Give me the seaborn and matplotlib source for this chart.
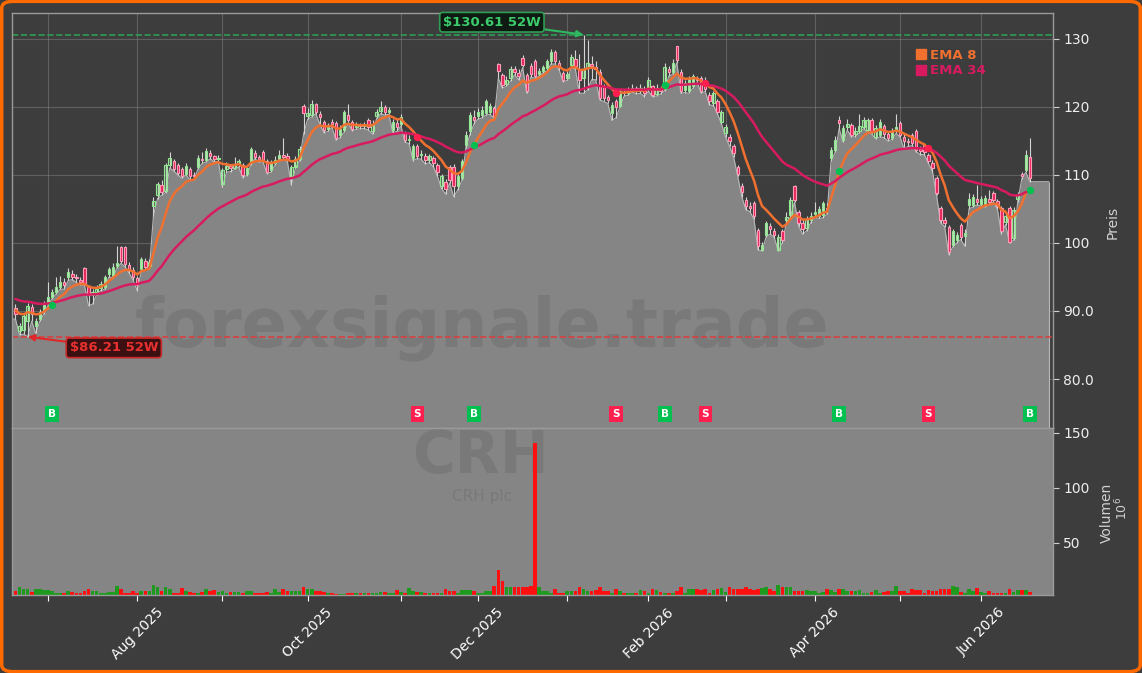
import matplotlib
matplotlib.use("Agg")
import matplotlib.pyplot as plt
import matplotlib.transforms as mtransforms
from matplotlib.lines import Line2D
from matplotlib.patches import FancyBboxPatch
from matplotlib.ticker import FuncFormatter
import numpy as np
import pandas as pd
import seaborn as sns

ticker = "CRH"
company = "CRH plc"
start_date = "2025-06-18"
end_date = "2026-06-17"
holidays = ["2025-06-19", "2025-07-04", "2025-09-01", "2025-11-27", "2025-12-25",
            "2026-01-01", "2026-01-19", "2026-02-16", "2026-04-03", "2026-05-25"]

opens = [90.5, 87.0, 87.2, 88.5, 90.6, 87.8, 88.8, 90.0, 91.0, 92.0,
         92.8, 93.5, 94.2, 95.0, 95.5, 95.0, 94.6, 96.3, 93.5, 92.4,
         92.8, 93.4, 93.5, 95.4, 95.2, 96.6, 99.4, 99.4, 96.8, 96.0,
         94.9, 96.2, 97.4, 96.6, 105.5, 107.0, 108.5, 107.7, 111.4, 112.0,
         111.5, 110.9, 110.2, 110.9, 110.0, 111.2, 112.4, 112.2, 113.2, 112.8,
         112.4, 108.6, 110.8, 111.3, 111.0, 111.6, 111.5, 110.2, 111.7, 113.2,
         112.6, 113.4, 112.0, 110.7, 111.8, 112.2, 112.9, 112.8, 109.8, 111.2,
         112.4, 120.1, 118.6, 118.8, 120.4, 119.0, 117.8, 116.8, 117.8, 117.6,
         115.8, 116.6, 118.8, 117.8, 117.0, 117.3, 117.2, 118.0, 116.5, 118.7,
         119.4, 120.0, 119.2, 116.6, 117.6, 117.5, 116.1, 115.2, 112.5, 114.2,
         112.9, 112.8, 112.2, 112.5, 111.5, 108.3, 109.0, 111.2, 111.2, 108.3,
         109.5, 114.4, 116.4, 118.5, 118.7, 118.8, 119.1, 119.3, 119.8, 126.3,
         124.7, 123.4, 124.2, 125.6, 125.0, 127.2, 124.7, 126.0, 126.7, 124.8,
         125.3, 125.7, 126.7, 128.1, 126.5, 125.0, 124.2, 126.2, 127.0, 125.5,
         124.3, 125.8, 126.3, 125.8, 125.2, 123.0, 121.4, 119.1, 120.8, 120.2,
         122.2, 122.0, 122.5, 122.8, 122.4, 122.6, 122.7, 123.0, 121.9, 122.6,
         122.7, 125.5, 125.2, 128.9, 125.2, 122.5, 122.3, 123.0, 124.3, 124.2,
         123.8, 121.8, 120.5, 120.8, 117.8, 116.1, 115.6, 114.2, 111.2, 108.4,
         106.3, 105.5, 105.8, 101.9, 99.0, 101.2, 102.5, 101.8, 99.0, 101.7,
         103.4, 104.1, 108.3, 104.6, 103.0, 102.2, 103.4, 104.2, 104.0, 104.1,
         105.2, 112.5, 113.7, 118.1, 115.1, 117.0, 117.4, 116.0, 116.5, 117.1,
         116.6, 118.1, 115.6, 115.9, 117.2, 116.0, 115.5, 116.5, 117.6, 115.6,
         115.0, 115.9, 116.4, 113.8, 114.4, 112.9, 111.8, 109.5, 105.1, 103.4,
         102.4, 99.7, 100.4, 102.6, 101.0, 105.6, 105.6, 106.5, 105.7, 105.6,
         106.4, 107.3, 106.2, 105.1, 103.1, 105.1, 100.7, 106.5, 110.2, 110.7,
         112.7]

highs = [91.0, 88.3, 89.6, 91.2, 91.0, 89.0, 90.3, 91.5, 94.3, 93.3,
         95.0, 95.2, 94.8, 96.3, 96.0, 95.5, 95.0, 96.5, 93.8, 93.2,
         93.8, 94.4, 95.3, 96.5, 97.0, 99.5, 99.5, 99.6, 97.2, 96.4,
         95.2, 98.0, 97.8, 97.6, 106.8, 109.0, 109.2, 111.8, 113.3, 112.3,
         111.8, 111.2, 111.7, 111.2, 110.5, 112.9, 113.3, 113.9, 113.7, 113.0,
         112.9, 111.0, 111.9, 111.6, 112.6, 112.4, 111.8, 111.4, 114.1, 113.6,
         113.0, 113.7, 112.3, 112.2, 112.8, 113.6, 115.5, 113.2, 111.4, 112.8,
         114.2, 120.4, 119.8, 121.0, 120.6, 119.4, 118.1, 117.7, 118.2, 117.9,
         117.3, 119.6, 120.4, 118.1, 117.8, 117.7, 117.8, 118.3, 118.0, 119.7,
         120.8, 120.3, 120.0, 118.2, 118.2, 118.9, 116.4, 115.8, 114.6, 114.5,
         113.6, 113.2, 113.1, 112.8, 111.8, 110.2, 109.4, 111.5, 111.6, 110.2,
         112.4, 116.5, 119.2, 119.5, 119.8, 120.2, 121.2, 120.6, 120.1, 126.5,
         125.0, 124.5, 126.0, 126.0, 125.5, 127.6, 125.0, 126.5, 127.0, 125.7,
         126.2, 127.1, 128.5, 128.3, 126.9, 125.3, 125.3, 127.8, 128.3, 127.8,
         130.61, 129.8, 127.5, 126.8, 125.5, 123.3, 121.8, 120.7, 121.1, 122.7,
         122.5, 122.9, 123.3, 123.0, 123.3, 123.0, 124.4, 123.2, 123.3, 123.0,
         126.4, 126.0, 127.0, 129.0, 125.5, 124.0, 124.6, 124.9, 124.6, 124.5,
         124.4, 122.2, 122.4, 121.1, 119.6, 117.5, 116.0, 114.6, 111.5, 108.8,
         106.8, 106.0, 106.1, 102.2, 100.1, 103.3, 103.0, 102.2, 101.3, 102.0,
         104.6, 106.7, 108.5, 104.9, 103.4, 104.0, 104.5, 106.0, 105.4, 106.2,
         105.8, 114.1, 115.7, 118.6, 117.3, 118.2, 117.7, 117.0, 119.0, 118.5,
         118.4, 118.4, 117.3, 118.2, 117.5, 116.4, 116.9, 118.9, 117.9, 116.0,
         115.5, 116.2, 116.7, 114.2, 114.7, 113.2, 112.2, 109.8, 105.4, 103.8,
         102.7, 102.1, 101.6, 102.9, 102.0, 107.3, 107.2, 108.5, 106.9, 107.0,
         107.8, 107.6, 106.5, 105.4, 104.3, 105.4, 105.3, 107.5, 110.5, 113.6,
         115.4]

lows = [88.8, 86.5, 86.6, 86.21, 88.5, 86.7, 88.5, 89.6, 90.8, 91.8,
        92.5, 93.2, 93.2, 94.5, 94.6, 94.2, 93.8, 93.8, 90.8, 91.0,
        92.4, 93.0, 93.2, 95.0, 94.9, 96.3, 97.0, 96.5, 95.6, 94.5,
        93.0, 95.8, 96.0, 96.2, 104.0, 106.5, 107.0, 107.4, 111.0, 110.6,
        110.0, 109.5, 110.0, 109.3, 109.3, 110.9, 111.7, 111.9, 112.4, 111.9,
        112.0, 108.2, 110.4, 110.5, 110.8, 111.2, 109.6, 109.9, 111.5, 112.4,
        111.9, 111.9, 110.2, 110.4, 111.5, 112.0, 112.2, 112.0, 108.5, 111.0,
        112.1, 116.0, 118.2, 118.5, 119.0, 117.5, 116.2, 116.4, 117.0, 115.1,
        115.5, 116.3, 117.6, 116.5, 116.7, 116.8, 116.8, 116.6, 116.0, 118.3,
        119.0, 118.8, 118.9, 116.2, 116.4, 117.2, 114.8, 114.6, 112.1, 112.4,
        112.3, 111.6, 111.8, 111.2, 109.8, 108.0, 107.2, 108.8, 106.8, 107.8,
        109.2, 114.0, 115.9, 117.5, 118.2, 118.4, 118.8, 118.9, 118.3, 124.2,
        122.8, 123.0, 123.8, 124.7, 124.0, 125.8, 122.0, 124.4, 124.2, 124.5,
        125.0, 125.3, 126.3, 126.3, 125.4, 123.7, 123.9, 125.9, 125.5, 122.0,
        122.0, 122.5, 124.0, 124.0, 121.0, 120.8, 120.5, 118.0, 118.4, 120.0,
        121.6, 121.7, 122.2, 121.9, 122.0, 121.5, 122.3, 121.5, 121.6, 121.9,
        122.4, 124.5, 124.8, 126.5, 122.0, 122.1, 122.0, 122.8, 123.6, 122.0,
        122.3, 120.3, 120.2, 119.0, 117.5, 115.6, 114.2, 112.6, 109.8, 106.8,
        104.9, 104.6, 103.5, 99.0, 98.8, 100.9, 101.3, 100.8, 98.8, 100.0,
        103.0, 103.8, 106.0, 102.5, 101.3, 101.8, 103.0, 103.8, 103.6, 103.7,
        104.2, 112.0, 113.3, 116.8, 114.8, 116.6, 115.6, 115.6, 116.2, 116.8,
        116.3, 116.0, 115.3, 115.6, 115.5, 115.0, 115.2, 116.1, 115.6, 113.8,
        114.2, 114.3, 113.4, 113.0, 113.0, 111.7, 110.5, 107.0, 103.0, 102.4,
        98.3, 99.4, 100.0, 100.5, 99.5, 105.0, 105.3, 105.6, 105.4, 105.3,
        105.6, 106.0, 105.0, 101.3, 102.7, 100.0, 100.4, 106.0, 109.4, 110.4,
        109.0]

closes = [89.5, 87.8, 89.2, 90.8, 89.6, 88.6, 89.9, 91.0, 92.0, 92.8,
          93.5, 94.2, 93.8, 95.8, 95.0, 94.8, 94.3, 94.0, 92.3, 92.8,
          93.3, 94.0, 95.0, 96.2, 96.5, 97.0, 97.4, 96.9, 96.0, 95.0,
          93.8, 97.6, 96.5, 97.2, 106.2, 108.7, 107.5, 111.4, 112.5, 110.9,
          110.3, 109.9, 111.3, 109.9, 109.8, 112.5, 112.2, 113.5, 112.8, 112.3,
          112.5, 110.7, 111.3, 111.0, 111.6, 112.0, 110.0, 111.0, 113.8, 112.7,
          112.4, 112.2, 110.5, 111.8, 112.2, 113.0, 112.6, 112.3, 111.1, 112.4,
          113.8, 119.1, 119.1, 120.4, 119.3, 118.5, 116.6, 117.2, 117.5, 115.4,
          116.8, 119.3, 118.0, 116.8, 117.3, 117.2, 117.3, 117.0, 117.5, 119.3,
          120.0, 119.2, 119.5, 117.8, 117.0, 118.5, 115.1, 115.3, 114.2, 112.8,
          113.0, 112.2, 112.8, 111.7, 110.5, 109.8, 108.0, 109.3, 108.3, 109.8,
          112.0, 115.9, 118.8, 118.0, 119.3, 119.5, 120.8, 120.2, 118.6, 125.3,
          123.2, 124.0, 125.5, 125.1, 124.5, 126.2, 122.3, 124.8, 124.5, 125.3,
          125.8, 126.7, 128.1, 126.7, 125.8, 124.0, 124.8, 127.4, 126.0, 124.0,
          125.5, 126.5, 126.0, 125.5, 121.3, 121.3, 121.0, 120.3, 120.0, 122.3,
          122.0, 122.5, 122.8, 122.4, 122.8, 122.0, 124.0, 121.8, 122.8, 122.3,
          125.9, 125.2, 126.5, 126.9, 122.3, 123.5, 124.2, 124.5, 124.0, 122.3,
          122.6, 120.8, 122.0, 119.3, 119.3, 117.1, 115.0, 113.2, 110.2, 107.5,
          105.5, 105.2, 103.9, 99.5, 99.7, 102.9, 102.0, 101.2, 100.9, 100.4,
          103.8, 106.3, 106.3, 102.9, 102.0, 103.5, 104.0, 104.5, 105.0, 105.8,
          105.0, 113.7, 115.1, 117.6, 116.9, 117.5, 115.9, 116.5, 117.2, 118.1,
          118.0, 116.4, 116.9, 117.8, 116.0, 115.5, 116.5, 117.0, 115.9, 115.0,
          114.8, 114.7, 113.7, 113.5, 113.4, 112.0, 111.0, 107.3, 103.4, 103.0,
          98.7, 101.7, 101.2, 100.9, 101.5, 106.5, 106.8, 106.0, 106.5, 106.6,
          106.0, 106.3, 105.5, 101.7, 103.9, 100.2, 104.9, 107.0, 109.8, 112.9,
          109.5]

# volume in millions
volumes = [5.5, 9.8, 7.5, 7.5, 5.0, 8.0, 8.0, 6.7, 6.7, 5.5,
           4.3, 4.3, 4.3, 5.5, 4.9, 3.7, 3.7, 5.5, 7.3, 6.1,
           5.5, 4.3, 4.3, 4.9, 4.9, 10.7, 7.3, 4.3, 4.3, 5.5,
           4.3, 6.1, 6.1, 6.1, 11.6, 9.2, 6.1, 9.2, 7.3, 4.3,
           4.3, 8.6, 6.1, 4.9, 3.7, 3.7, 4.6, 7.3, 6.1, 6.7,
           4.9, 6.1, 4.3, 4.9, 4.9, 4.9, 4.3, 6.1, 6.1, 4.3,
           4.3, 4.3, 4.9, 3.7, 7.3, 4.9, 7.3, 6.1, 5.5, 5.5,
           5.5, 9.8, 7.3, 7.3, 5.5, 6.1, 4.9, 3.7, 3.7, 3.4,
           3.4, 3.4, 3.7, 3.7, 4.3, 3.7, 3.7, 3.7, 3.7, 3.7,
           4.9, 4.9, 4.3, 4.3, 6.7, 4.9, 4.3, 8.6, 6.1, 4.9,
           4.9, 3.7, 3.7, 3.7, 4.3, 4.3, 7.6, 5.5, 5.5, 4.3,
           6.7, 6.7, 6.7, 5.5, 4.3, 4.3, 6.1, 6.1, 10.4, 25.0,
           14.6, 9.8, 9.8, 9.8, 9.8, 9.8, 9.8, 10.7, 140.5, 9.8,
           5.5, 5.5, 3.7, 7.6, 4.3, 4.3, 6.1, 6.1, 6.1, 9.8,
           7.6, 5.5, 5.5, 6.7, 9.8, 6.1, 5.5, 4.0, 8.0, 6.1,
           4.3, 4.3, 4.3, 4.3, 6.7, 5.5, 4.3, 8.0, 6.7, 4.9,
           4.3, 4.3, 4.3, 6.1, 9.2, 4.3, 8.0, 7.3, 8.0, 6.7,
           7.3, 4.3, 6.7, 7.3, 8.6, 4.5, 9.8, 7.3, 8.0, 8.0,
           9.8, 8.0, 6.7, 7.3, 8.6, 9.8, 7.3, 6.1, 11.6, 9.2,
           9.8, 9.8, 5.5, 6.1, 6.1, 6.7, 5.5, 5.5, 3.7, 4.9,
           7.3, 6.7, 5.0, 8.0, 7.3, 6.1, 6.1, 5.5, 6.7, 4.3,
           4.3, 4.9, 6.7, 4.3, 4.9, 6.1, 6.1, 10.7, 5.5, 6.1,
           4.3, 7.3, 6.7, 6.7, 4.3, 6.7, 6.1, 6.1, 7.3, 7.3,
           8.0, 10.7, 9.2, 4.9, 4.3, 7.3, 5.5, 8.6, 4.9, 3.7,
           5.5, 3.7, 3.7, 4.3, 4.3, 7.3, 4.9, 6.7, 6.7, 6.7,
           4.9]

# EMA values on the first visible day (history before the window)
ema8_start = 90.3
ema34_start = 91.9

# EMA crossings (bar index, kind)
signal_idx = [9, 99, 113, 148, 160, 170, 203, 225, 250]
signal_kind = ["B", "S", "B", "S", "B", "S", "B", "S", "B"]

dates = pd.bdate_range(start_date, end_date, freq="C", holidays=holidays)
df = pd.DataFrame({"date": dates, "open": opens, "high": highs, "low": lows,
                   "close": closes, "volume": volumes})
df["x"] = np.arange(len(df))


def ema(values, span, seed):
    s = pd.Series([seed] + list(values))
    return s.ewm(span=span, adjust=False).mean().iloc[1:].to_numpy()


df["ema8"] = ema(df["close"], 8, ema8_start)
df["ema34"] = ema(df["close"], 34, ema34_start)

BG = "#3d3d3d"
FILL = "#858585"
C_EMA8 = "#f07030"
C_EMA34 = "#d81b60"
C_BUY = "#00c050"
C_SELL = "#ff1f4f"

sns.set_theme(style="dark", rc={"axes.facecolor": BG, "figure.facecolor": BG})
plt.rcParams["font.family"] = ["DejaVu Sans"]

fig = plt.figure(figsize=(11.42, 6.73), dpi=100)
ax = fig.add_axes([12 / 1142, 1 - 428 / 673, 1041 / 1142, 415 / 673])
axv = fig.add_axes([12 / 1142, 1 - 595 / 673, 1041 / 1142, 167 / 673], sharex=ax)

n = len(df)
x = df["x"].to_numpy()
o = df["open"].to_numpy()
h = df["high"].to_numpy()
l = df["low"].to_numpy()
c = df["close"].to_numpy()
y_lo, y_hi = 72.8, 133.8
x_start, x_stop = -0.86, 255.7
x_end = n - 1 + 4.7

# price area
ax.set_axisbelow(True)
ax.grid(True, color="#8c8c8c", lw=0.8, alpha=0.45)
xs = np.concatenate([[x_start], x, [x_end]])
ls_ = np.concatenate([[l[0]], l, [l[-1]]])
ax.fill_between(xs, ls_, y_lo, color=FILL, lw=0, zorder=1)
sns.lineplot(x=xs, y=ls_, ax=ax, color="#b8b8b8", lw=0.8, zorder=2)
ax.vlines(x_end, y_lo, l[-1], color="#b8b8b8", lw=0.8, zorder=2)

ax.text(482 / 1142, 1 - 328 / 673, "forexsignale.trade", transform=fig.transFigure,
        fontsize=48, fontweight="bold", color="black", alpha=0.09,
        ha="center", va="center", zorder=2)

# 52W lines
ax.axhline(max(h), color="#2e9e55", ls="--", lw=1.2, zorder=2.5)
ax.axhline(min(l), color="#d84040", ls="--", lw=1.2, zorder=2.5)

# candles
up = c >= o
ax.vlines(x, l, h, color="#d4d4d4", lw=0.8, zorder=3)
ax.bar(x[up], np.maximum(c - o, 0.15)[up], bottom=o[up], width=0.6,
       facecolor=(0.55, 0.9, 0.55, 0.25), edgecolor="#90e890", lw=0.8, zorder=4)
ax.bar(x[~up], np.maximum(o - c, 0.15)[~up], bottom=c[~up], width=0.6,
       facecolor="#e8245a", edgecolor="#ff9db8", lw=0.8, zorder=4)

# EMAs
sns.lineplot(data=df, x="x", y="ema8", ax=ax, color=C_EMA8, lw=1.8, zorder=5)
sns.lineplot(data=df, x="x", y="ema34", ax=ax, color=C_EMA34, lw=1.8, zorder=5)

trans = mtransforms.blended_transform_factory(ax.transData, ax.transAxes)
for i, k in zip(signal_idx, signal_kind):
    col = C_BUY if k == "B" else C_SELL
    ax.scatter(i, df["ema8"].iloc[i], s=28, color=col, zorder=6, lw=0)
    ax.text(i, 0.034, k, transform=trans, ha="center", va="center", color="white",
            fontsize=7.5, fontweight="bold", zorder=7,
            bbox=dict(boxstyle="square,pad=0.28", fc=col, ec="none"))

# 52W annotations
hi_i = int(np.argmax(h))
lo_i = int(np.argmin(l))
ax.annotate(f"${h[hi_i]:.2f} 52W", xy=(hi_i, h[hi_i]), xytext=(-66, 9),
            textcoords="offset points", ha="center", va="center",
            color="#3ccc6c", fontsize=9.5, fontweight="bold", zorder=8,
            bbox=dict(boxstyle="round,pad=0.25", fc="#0e1a12", ec="#2e9e55", lw=1.2),
            arrowprops=dict(arrowstyle="-|>", color="#2eb860", lw=1.5,
                            shrinkA=0, shrinkB=0))
ax.annotate(f"${l[lo_i]:.2f} 52W", xy=(lo_i, l[lo_i]), xytext=(62, -8),
            textcoords="offset points", ha="center", va="center",
            color="#e83030", fontsize=9.5, fontweight="bold", zorder=8,
            bbox=dict(boxstyle="round,pad=0.25", fc="#3c1010", ec="#c82828", lw=1.2),
            arrowprops=dict(arrowstyle="-|>", color="#e02828", lw=1.5,
                            shrinkA=0, shrinkB=0))

handles = [Line2D([], [], marker="s", ls="", color=C_EMA8, markersize=7),
           Line2D([], [], marker="s", ls="", color=C_EMA34, markersize=7)]
ax.legend(handles, ["EMA 8", "EMA 34"], loc="upper left", bbox_to_anchor=(0.862, 0.93),
          frameon=False, labelcolor=[C_EMA8, C_EMA34],
          prop={"weight": "bold", "size": 9.5}, handlelength=0.7,
          handletextpad=0.4, borderpad=0, labelspacing=0.2)

ax.set_ylim(y_lo, y_hi)
ax.set_xlim(x_start, x_stop)
ax.set_yticks([80, 90, 100, 110, 120, 130])
ax.yaxis.set_major_formatter(FuncFormatter(lambda v, _: f"{v:.1f}" if v < 100 else f"{v:.0f}"))
ax.yaxis.tick_right()
ax.yaxis.set_label_position("right")
ax.set_ylabel("Preis", color="#d0d0d0", fontsize=10)
ax.yaxis.set_label_coords(1.051, 0.496)
ax.tick_params(axis="y", colors="#d0d0d0", labelcolor="#eeeeee", labelsize=10,
               length=4, width=0.8, right=True, left=False)
ax.tick_params(axis="x", bottom=False, labelbottom=False)
ax.set_xlabel("")

# volume
axv.set_facecolor(FILL)
vol = df["volume"].to_numpy()
axv.bar(x[up], vol[up], width=0.9, color="#1e9a1e", lw=0, zorder=2)
axv.bar(x[~up], vol[~up], width=0.9, color="#ff1010", lw=0, zorder=2)
axv.text(480 / 1142, 1 - 457 / 673, ticker, transform=fig.transFigure, fontsize=42,
         fontweight="bold", color="black", alpha=0.09, ha="center", va="center", zorder=1)
axv.text(482 / 1142, 1 - 496 / 673, company, transform=fig.transFigure, fontsize=11,
         color="black", alpha=0.09, ha="center", va="center", zorder=1)
axv.set_ylim(2.2, max(volumes) * 1.1)
axv.set_yticks([50, 100, 150])
axv.yaxis.tick_right()
axv.yaxis.set_label_position("right")
axv.set_ylabel("Volumen", color="#d0d0d0", fontsize=10)
axv.yaxis.set_label_coords(1.045, 0.49)
axv.text(1.066, 0.52, r"$10^{6}$", transform=axv.transAxes, rotation=90,
         color="#d0d0d0", fontsize=9, ha="center", va="center")
axv.tick_params(axis="y", colors="#d0d0d0", labelcolor="#eeeeee", labelsize=10,
                length=4, width=0.8, right=True, left=False)

month_first = df.groupby([df["date"].dt.year, df["date"].dt.month])["x"].min()
month_first = month_first[month_first > 0]
tick_pos = month_first.to_numpy()
tick_lab = [df["date"].iloc[p].strftime("%b %Y") if df["date"].iloc[p].month % 2 == 0 else ""
            for p in tick_pos]
axv.set_xticks(tick_pos)
axv.set_xticklabels(tick_lab)
axv.tick_params(axis="x", colors="white", labelsize=10, length=4, width=0.8,
                rotation=45, bottom=True)
axv.set_xlabel("")
ax.set_xticks(tick_pos)

for a in (ax, axv):
    for sp in a.spines.values():
        sp.set_color("#9a9a9a")
        sp.set_linewidth(1.0)

fig.patches.append(FancyBboxPatch((0.0015, 0.002), 0.997, 0.996,
                                  boxstyle="round,pad=0,rounding_size=0.01",
                                  transform=fig.transFigure, fc="none",
                                  ec="#ff6a00", lw=2.5))

fig.savefig("out.png", dpi=100, facecolor=BG)
